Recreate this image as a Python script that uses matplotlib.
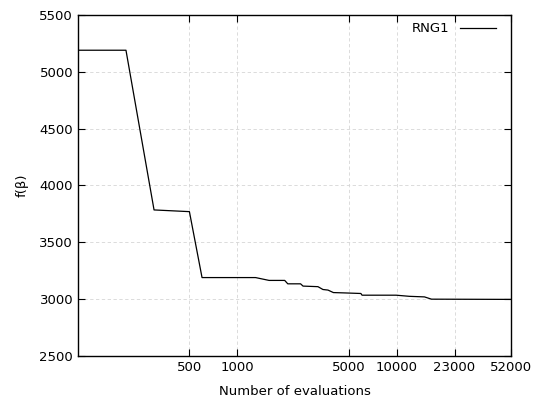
import matplotlib
matplotlib.use("Agg")
import matplotlib.pyplot as plt
from matplotlib.ticker import FixedLocator, NullLocator, FixedFormatter

# evaluations vs best objective value
evals = [100, 200, 300, 500, 600, 1300, 1580, 1980, 2070, 2490, 2580, 3200,
         3440, 3700, 4000, 4700, 5950, 6050, 9900, 12000, 14900, 16500, 52000]
fbeta = [5190, 5190, 3785, 3770, 3190, 3190, 3165, 3165, 3135, 3135, 3115, 3110,
         3085, 3080, 3058, 3055, 3050, 3035, 3035, 3025, 3020, 3000, 2998]

xticks = [500, 1000, 5000, 10000, 23000, 52000]
yticks = [2500, 3000, 3500, 4000, 4500, 5000, 5500]

fig = plt.figure(figsize=(5.33, 4.04), dpi=100)
ax = fig.add_axes([0.1463, 0.1188, 0.8124, 0.8441])

ax.plot(evals, fbeta, color='black', linewidth=0.9, label='RNG1')

ax.set_xscale('log')
ax.set_xlim(100, 52000)
ax.set_ylim(2500, 5500)
ax.xaxis.set_major_locator(FixedLocator(xticks))
ax.xaxis.set_major_formatter(FixedFormatter([str(t) for t in xticks]))
ax.xaxis.set_minor_locator(NullLocator())
ax.set_yticks(yticks)

ax.tick_params(direction='in', top=True, right=True, length=5, labelsize=9.5,
               width=0.8)
ax.grid(True, color='#d6d6d6', linestyle=(0, (4, 3)), linewidth=0.6)
for s in ax.spines.values():
    s.set_linewidth(1.0)

ax.set_xlabel('Number of evaluations', fontsize=9.5, labelpad=8)
ax.set_ylabel('f(β)', fontsize=9.5, labelpad=8)

ax.legend(loc='upper right', frameon=False, markerfirst=False, fontsize=9.5,
          handlelength=2.7, borderaxespad=0.3, bbox_to_anchor=(0.986, 1.006))

fig.savefig('out.png', dpi=100)
